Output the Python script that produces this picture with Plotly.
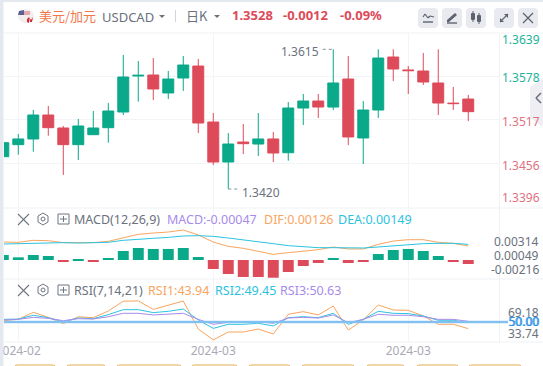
import plotly.graph_objects as go

# ---------- data ----------
idx = list(range(32))
opens = [1.34648,1.34817,1.34897,1.35233,1.35051,1.34817,1.34957,1.35055,1.35275,1.35780,1.35794,1.35542,1.35752,1.35920,1.35135,1.34574,
         1.34854,1.34826,1.34897,1.34704,1.35331,1.35429,1.35345,1.35738,1.34911,1.35303,1.36046,1.35865,1.35850,1.35682,1.35400,1.35457]
highs = [1.34859,1.34967,1.35303,1.35359,1.35079,1.35177,1.35289,1.35401,1.36075,1.35990,1.36032,1.35850,1.36060,1.36018,1.35261,1.34981,
         1.35107,1.35261,1.34995,1.35415,1.35528,1.35528,1.36154,1.36060,1.35429,1.36154,1.36154,1.35920,1.36103,1.36154,1.35626,1.35514]
lows = [1.34644,1.34676,1.34718,1.34943,1.34392,1.34602,1.34957,1.34845,1.35233,1.35420,1.35443,1.35457,1.35570,1.34981,1.34532,1.34195,
        1.34686,1.34658,1.34574,1.34592,1.35093,1.35191,1.35303,1.34812,1.34546,1.35191,1.35710,1.35528,1.35654,1.35233,1.35303,1.35149]
closes = [1.34845,1.34897,1.35233,1.35055,1.34817,1.35079,1.35051,1.35289,1.35766,1.35790,1.35598,1.35738,1.35934,1.35121,1.34574,1.34826,
          1.34831,1.34897,1.34700,1.35331,1.35429,1.35345,1.35682,1.34925,1.35303,1.36032,1.35878,1.35855,1.35696,1.35401,1.35393,1.35280]
macd_hist = [.00095,.00051,.00095,.00076,-.00019,.00019,-.00019,.00038,.00170,.00227,.00208,.00208,.00227,.00057,-.00170,-.00265,
             -.00321,-.00321,-.00335,-.00227,-.00113,-.00057,.00038,-.00057,-.00038,.00113,.00189,.00208,.00170,.00076,-.00019,-.00076]
dif = [.00340,.00334,.00372,.00365,.00328,.00328,.00328,.00353,.00422,.00485,.00510,.00529,.00567,.00473,.00340,.00258,
       .00221,.00170,.00107,.00139,.00170,.00195,.00246,.00208,.00208,.00296,.00359,.00384,.00384,.00334,.00315,.00265]
dea = [.00302,.00309,.00321,.00328,.00328,.00321,.00321,.00334,.00372,.00397,.00410,.00428,.00454,.00460,.00447,.00416,
       .00384,.00347,.00309,.00271,.00252,.00233,.00233,.00227,.00227,.00246,.00271,.00290,.00309,.00315,.00315,.00296]
rsi1 = [51.2,52.4,58.8,54.2,48.5,54.8,53.9,60.0,68.9,69.18,61.5,65.5,69.1,43.6,33.74,40.9,40.9,43.6,39.1,57.0,59.4,56.4,64.5,42.7,51.8,65.5,60.9,60.6,55.5,47.9,47.9,43.94]
rsi2 = [52.4,52.7,56.1,53.9,50.3,53.6,53.0,56.7,61.2,61.2,58.5,59.7,61.8,51.8,44.2,47.9,47.9,48.8,46.4,53.9,54.8,53.9,57.9,47.9,52.4,59.7,57.9,57.6,55.5,51.5,51.5,49.45]
rsi3 = [51.8,52.4,54.2,53.3,51.2,53.0,52.7,54.8,57.9,57.9,56.4,57.0,57.9,52.4,47.9,49.7,49.7,50.3,48.8,53.6,54.2,53.6,56.4,49.4,52.4,57.0,56.1,56.1,54.8,52.4,52.4,50.63]
date_ticks = [1, 14, 27]
date_labels = ["2024-02", "2024-03", "2024-03"]
price_grid = [1.3578, 1.3517, 1.3456]

GREEN, RED = "#09a98a", "#dd4b5a"
ORANGE, CYAN, PURPLE = "#f8a55f", "#2cc3df", "#a78bea"
GRAY, GRID, LTBTN = "#6b717d", "#f3f4f7", "#e8eaf0"
FONT = "Noto Sans, Noto Sans CJK SC, sans-serif"
W, H, L, R, T, B = 543, 366, 4, 44, 33, 24

def X(px): return (px - L) / (W - L - R)
def Y(py): return (H - B - py) / (H - T - B)

fig = go.Figure()
fig.add_trace(go.Candlestick(x=idx, open=opens, high=highs, low=lows, close=closes, xaxis="x", yaxis="y",
    increasing=dict(line=dict(color=GREEN, width=1), fillcolor=GREEN),
    decreasing=dict(line=dict(color=RED, width=1), fillcolor=RED), whiskerwidth=0))
fig.add_trace(go.Bar(x=idx, y=macd_hist, xaxis="x2", yaxis="y2",
    marker=dict(color=[GREEN if v > 0 else RED for v in macd_hist], line=dict(width=0))))
fig.add_trace(go.Scatter(x=idx, y=dif, mode="lines", line=dict(color=ORANGE, width=1), xaxis="x2", yaxis="y2"))
fig.add_trace(go.Scatter(x=idx, y=dea, mode="lines", line=dict(color=CYAN, width=1), xaxis="x2", yaxis="y2"))
fig.add_trace(go.Scatter(x=idx, y=rsi1, mode="lines", line=dict(color=ORANGE, width=1), xaxis="x3", yaxis="y3"))
fig.add_trace(go.Scatter(x=idx, y=rsi2, mode="lines", line=dict(color=CYAN, width=1), xaxis="x3", yaxis="y3"))
fig.add_trace(go.Scatter(x=idx, y=rsi3, mode="lines", line=dict(color=PURPLE, width=1), xaxis="x3", yaxis="y3"))

xrange = [0.047, 33.05]
common = dict(range=xrange, tickmode="array", tickvals=date_ticks, showgrid=True, gridcolor=GRID, gridwidth=1,
              zeroline=False, showline=False, ticks="")
shapes, anns = [], []

def text(s, x, y, color=GRAY, size=12, anchor="left", bold=False, font=FONT):
    anns.append(dict(text=f"<b>{s}</b>" if bold else s, xref="paper", yref="paper", x=X(x), y=Y(y), xanchor=anchor,
                     yanchor="middle", showarrow=False, borderpad=0, font=dict(family=font, size=size, color=color)))

def dtext(s, value, yaxis, shift, color=GRAY, size=12, x=540):
    anns.append(dict(text=s, xref="paper", yref=yaxis, x=X(x), y=value, xanchor="right", yanchor="middle",
                     yshift=shift, showarrow=False, borderpad=0, font=dict(family=FONT, size=size, color=color)))

def line(x0, y0, x1, y1, color=GRAY, width=1, layer="below", dash=None):
    shapes.append(dict(type="line", xref="paper", yref="paper", x0=X(x0), y0=Y(y0), x1=X(x1), y1=Y(y1), layer=layer,
                       line=dict(color=color, width=width, dash=dash or "solid")))

def poly(pts, fill, layer="above", lc=None, lw=0):
    d = "M " + " L ".join(f"{X(a):.5f},{Y(b):.5f}" for a, b in pts) + " Z"
    shapes.append(dict(type="path", xref="paper", yref="paper", path=d, fillcolor=fill, layer=layer,
                       line=dict(color=lc or fill, width=lw)))

def rrect(x0, y0, x1, y1, r, fill, lc=None, lw=0, layer="above"):
    p = (f"M {X(x0+r):.5f},{Y(y0):.5f} L {X(x1-r):.5f},{Y(y0):.5f} Q {X(x1):.5f},{Y(y0):.5f} {X(x1):.5f},{Y(y0+r):.5f} "
         f"L {X(x1):.5f},{Y(y1-r):.5f} Q {X(x1):.5f},{Y(y1):.5f} {X(x1-r):.5f},{Y(y1):.5f} "
         f"L {X(x0+r):.5f},{Y(y1):.5f} Q {X(x0):.5f},{Y(y1):.5f} {X(x0):.5f},{Y(y1-r):.5f} "
         f"L {X(x0):.5f},{Y(y0+r):.5f} Q {X(x0):.5f},{Y(y0):.5f} {X(x0+r):.5f},{Y(y0):.5f} Z")
    shapes.append(dict(type="path", xref="paper", yref="paper", path=p, fillcolor=fill, layer=layer,
                       line=dict(color=lc or fill, width=lw)))

# panel rules
for py in (33, 208, 279, 342):
    line(4, py, 543, py, "#eff1f4", 1)
line(499.5, 33, 499.5, 342, "#f1f2f5", 1)
# RSI 50 line
shapes.append(dict(type="line", xref="paper", yref="y3", x0=X(4), x1=X(508), y0=50, y1=50, layer="above",
                   line=dict(color="#93cbf5", width=2.5)))
shapes.append(dict(type="line", xref="paper", yref="y3", x0=X(4), x1=X(508), y0=50, y1=50, layer="above",
                   line=dict(color="#6cb0ee", width=0.8)))
# page edges
poly([(0, 0), (3.5, 0), (3.5, 366), (0, 366)], "#e4e8ef")
poly([(0, 0), (543, 0), (543, 2), (0, 2)], "#e4e8ef")
# side handle
poly([(530, 87), (543, 78), (543, 127), (530, 118)], "#eeeef3", layer="below")
line(541, 93, 536, 98, "#6b717d", 1.6); line(536, 98, 541, 103, "#6b717d", 1.6)

# high / low markers
shapes.append(dict(type="line", xref="x", yref="y", x0=21.3, x1=22, y0=1.36154, y1=1.36154, layer="above",
                   line=dict(color="#8a8f99", width=1, dash="dot")))
shapes.append(dict(type="line", xref="x", yref="y", x0=15, x1=15.7, y0=1.34195, y1=1.34195, layer="above",
                   line=dict(color="#8a8f99", width=1, dash="dot")))
anns.append(dict(text="1.3615", xref="x", yref="y", x=21.15, y=1.36154, yshift=-2, xanchor="right", yanchor="middle", showarrow=False,
                 font=dict(family=FONT, size=12, color=GRAY)))
anns.append(dict(text="1.3420", xref="x", yref="y", x=15.78, y=1.34195, yshift=-3, xanchor="left", yanchor="middle", showarrow=False,
                 font=dict(family=FONT, size=12, color=GRAY)))

# header
shapes.append(dict(type="circle", xref="paper", yref="paper", x0=X(18), x1=X(34), y0=Y(9), y1=Y(23), layer="above",
                   fillcolor="#f4eded", line=dict(width=0)))
poly([(19, 11), (24, 10), (24, 15), (18, 15)], "#5a5f8f")
for yy in (12, 14):
    line(24, yy, 30, yy, "#d4646e", 1, layer="above")
poly([(29, 17), (31, 20), (33, 17), (32, 22), (30, 22)], "#d92b35")
poly([(27, 19), (29, 17), (29, 23), (27, 22)], "#d92b35")
text("美元/加元", 38, 15.5, "#f2784b", 13, font="Noto Sans CJK SC")
text("USDCAD", 101, 16.5, GRAY, 13)
poly([(159, 15), (165, 15), (162, 18)], GRAY)
line(175.5, 10, 175.5, 22, "#d0d3da", 1)
text("日K", 185, 15, GRAY, 13, font="Noto Sans CJK SC")
poly([(214, 15), (220, 15), (217, 18)], GRAY)
text("1.3528", 231, 15.5, RED, 13, bold=True)
text("-0.0012", 282, 15.5, RED, 13, bold=True)
text("-0.09%", 339, 15.5, RED, 13, bold=True)

# buttons
for a in (418, 442, 466, 494, 518):
    rrect(a, 8, a + 20, 28, 4, LTBTN)
ic = "#5d636e"
for (a, b, c, d) in [(423, 17, 425, 14), (425, 14, 428, 18), (428, 18, 430, 16), (430, 16, 434, 17)]:
    line(a, b, c, d, ic, 1.2, layer="above")
line(423, 22, 433, 22, ic, 1.4, layer="above")
poly([(447, 20), (455, 13), (457, 15), (449, 22), (447, 22)], ic)
line(447, 23, 457, 23, ic, 1.4, layer="above")
rrect(471, 13, 475, 20, 1, ic); line(473, 11, 473, 22, ic, 1, layer="above")
rrect(477, 15, 481, 22, 1, ic); line(479, 13, 479, 24, ic, 1, layer="above")
line(500, 22, 508, 14, ic, 1.1, layer="above")
poly([(504, 14), (508, 14), (508, 18)], ic); poly([(500, 18), (500, 22), (504, 22)], ic)
line(523, 13, 533, 23, ic, 1.2, layer="above"); line(533, 13, 523, 23, ic, 1.2, layer="above")

# indicator headers
for row_y in (219, 290):
    line(18, row_y - 5, 29, row_y + 6, "#6f7580", 1.1, layer="above"); line(29, row_y - 5, 18, row_y + 6, "#6f7580", 1.1, layer="above")
    poly([(43, row_y - 6), (48, row_y - 3), (48, row_y + 3), (43, row_y + 6), (38, row_y + 3), (38, row_y - 3)], "rgba(0,0,0,0)", lc="#6f7580", lw=1)
    shapes.append(dict(type="circle", xref="paper", yref="paper", x0=X(41), x1=X(45), y0=Y(row_y - 2), y1=Y(row_y + 2), layer="above",
                       line=dict(color="#6f7580", width=1)))
    shapes.append(dict(type="rect", xref="paper", yref="paper", x0=X(58), x1=X(69), y0=Y(row_y - 5), y1=Y(row_y + 5), layer="above",
                       line=dict(color="#6f7580", width=1)))
    line(60, row_y, 67, row_y, "#6f7580", 1, layer="above"); line(63.5, row_y - 3, 63.5, row_y + 3, "#6f7580", 1, layer="above")
text("MACD(12,26,9)", 72.5, 219, GRAY, 12.5)
text("MACD:-0.00047", 166, 219, PURPLE, 12.5)
text("DIF:0.00126", 263, 219, ORANGE, 12.5)
text("DEA:0.00149", 337, 219, CYAN, 12.5)
text("RSI(7,14,21)", 72.5, 290, GRAY, 12.5)
text("RSI1:43.94", 147, 290, ORANGE, 12.5)
text("RSI2:49.45", 214, 290, CYAN, 12.5)
text("RSI3:50.63", 279, 290, PURPLE, 12.5)

# right-hand labels
GL, RL = "#22b39a", "#e0727f"
text("1.3639", 541, 40, GL, 12, anchor="right")
dtext("1.3578", 1.3578, "y", -1.5, GL, x=541)
dtext("1.3517", 1.3517, "y", -1.5, RL, x=541)
dtext("1.3456", 1.3456, "y", -2, RL, x=541)
dtext("1.3396", 1.3396, "y", 8, RL, x=541)
dtext("0.00314", 0.00314, "y2", 1.7)
dtext("0.00049", 0.00049, "y2", 1.7)
dtext("-0.00216", -0.00216, "y2", 1.5)
dtext("69.18", 69.18, "y3", -11.7)
dtext("33.74", 33.74, "y3", 6.5)
dtext("50.00", 50.0, "y3", 0, "#4ea5ea")
dtext("50.00", 50.0, "y3", 0, "#2f90e4", x=540.6)

# bottom buttons, cut by the window edge
for a, b in [(14, 56), (66, 106), (116, 182), (191, 238), (248, 291), (301, 355), (366, 405), (416, 459), (468, 522)]:
    rrect(a, 365, b, 378, 4, "#ffffff", lc="#e2ab52", lw=1)

fig.update_layout(
    width=W, height=H, margin=dict(l=L, r=R, t=T, b=B, pad=0, autoexpand=False), showlegend=False, hovermode=False,
    paper_bgcolor="#ffffff", plot_bgcolor="#ffffff", boxgap=0.27, boxgroupgap=0, bargap=0.27,
    font=dict(family=FONT),
    shapes=shapes, annotations=anns,
    xaxis=dict(domain=[0, 1], anchor="y", rangeslider=dict(visible=False), showticklabels=False, **common),
    xaxis2=dict(domain=[0, 1], anchor="y2", showticklabels=False, **common),
    xaxis3=dict(domain=[0, 1], anchor="y3", ticktext=date_labels, showticklabels=True, ticklabeloverflow="allow",
                tickfont=dict(family=FONT, size=12, color="#a9a9b5"), **common),
    yaxis=dict(domain=[Y(208), 1], range=[1.33929, 1.36383], tickmode="array", tickvals=price_grid, showticklabels=False,
               showgrid=True, gridcolor=GRID, zeroline=False, ticks=""),
    yaxis2=dict(domain=[Y(279), Y(208)], range=[-0.00359, 0.00983], showticklabels=False, showgrid=False, zeroline=False, ticks=""),
    yaxis3=dict(domain=[0, Y(279)], range=[31.8, 89.1], showticklabels=False, showgrid=False, zeroline=False, ticks=""),
)
fig.write_html("out.html", config=dict(displayModeBar=False),
               post_script="document.body.style.margin='0';document.documentElement.style.overflow='hidden';")
